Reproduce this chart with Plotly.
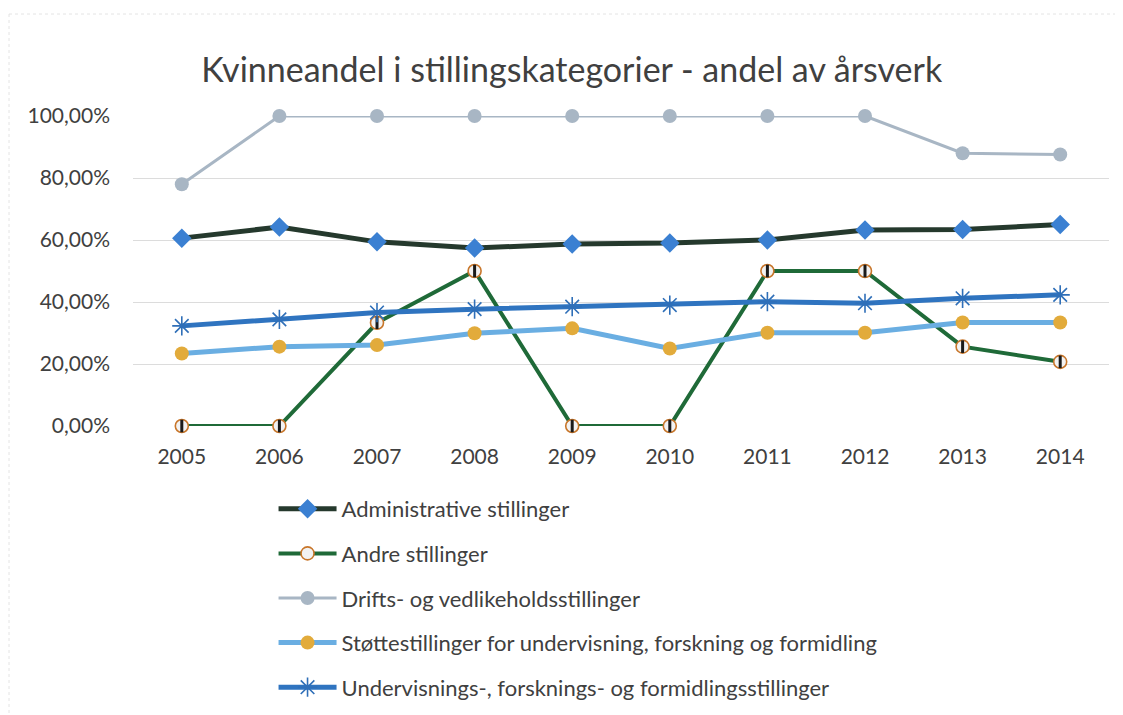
import plotly.graph_objects as go

years = ["2005", "2006", "2007", "2008", "2009", "2010", "2011", "2012", "2013", "2014"]
administrative = [60.6, 64.2, 59.4, 57.4, 58.7, 59.0, 60.0, 63.2, 63.4, 65.0]
andre = [0.0, 0.0, 33.3, 50.0, 0.0, 0.0, 50.0, 50.0, 25.6, 20.7]
drifts = [78.0, 100.0, 100.0, 100.0, 100.0, 100.0, 100.0, 100.0, 88.0, 87.6]
stotte = [23.4, 25.6, 26.1, 29.9, 31.5, 25.0, 30.1, 30.1, 33.4, 33.4]
undervisning = [32.3, 34.4, 36.6, 37.7, 38.5, 39.0, 40.1, 39.6, 41.2, 42.3]

names = [
    "Administrative stillinger",
    "Andre stillinger",
    "Drifts- og vedlikeholdsstillinger",
    "Støttestillinger for undervisning, forskning og formidling",
    "Undervisnings-, forsknings- og formidlingsstillinger",
]
tick_vals = [0, 20, 40, 60, 80, 100]
tick_text = ["0,00%", "20,00%", "40,00%", "60,00%", "80,00%", "100,00%"]

FONT = "Lato"
fig = go.Figure()

styles = [
    dict(line=dict(color="#25392d", width=5),
         marker=dict(symbol="diamond", size=15, color="#3b80d2", line=dict(width=0))),
    dict(line=dict(color="#1f6a38", width=4),
         marker=dict(symbol="circle", size=13, color="#f2f2f2", line=dict(color="#c8762a", width=1.6))),
    dict(line=dict(color="#a8b6c4", width=3),
         marker=dict(symbol="circle", size=14, color="#a8b6c4", line=dict(width=0))),
    dict(line=dict(color="#6aaee2", width=5),
         marker=dict(symbol="circle", size=14, color="#e2ab3b", line=dict(width=0))),
    dict(line=dict(color="#2f74c0", width=5),
         marker=dict(symbol="asterisk-open", size=16, color="#2f6fb8", line=dict(color="#2f6fb8", width=1.6))),
]
series = [administrative, andre, drifts, stotte, undervisning]

for i, (nm, vals, st) in enumerate(zip(names, series, styles)):
    fig.add_trace(go.Scatter(
        x=years, y=vals, name=nm, mode="lines+markers",
        line=st["line"], marker=st["marker"], legendgroup=f"g{i}",
        cliponaxis=False,
    ))
    if i == 1:
        # striped look of the "Andre" markers
        fig.add_trace(go.Scatter(
            x=years, y=vals, mode="markers", showlegend=False, hoverinfo="skip",
            legendgroup=f"g{i}", cliponaxis=False,
            marker=dict(symbol="line-ns", size=9, color="#1a1a1a",
                        line=dict(color="#1a1a1a", width=3)),
        ))

# faint chart-area border (top and left), as in the scanned original
shapes = [
    dict(type="line", xref="paper", yref="paper",
         x0=(1 - 125) / 976, x1=1.03, y0=1 + (108 - 6) / 310, y1=1 + (108 - 6) / 310,
         line=dict(color="#e4e4e4", width=1, dash="dot")),
    dict(type="line", xref="paper", yref="paper",
         x0=(1 - 125) / 976, x1=(1 - 125) / 976, y0=1 + (108 - 6) / 310, y1=-(297 - 2) / 310,
         line=dict(color="#e4e4e4", width=1, dash="dot")),
]

fig.update_layout(
    width=1123, height=715,
    paper_bgcolor="white", plot_bgcolor="white",
    margin=dict(l=125, r=22, t=108, b=297, autoexpand=False),
    title=dict(text="Kvinneandel i stillingskategorier - andel av årsverk",
               x=0.502, xanchor="center", y=0.913, yanchor="middle",
               font=dict(family=FONT, size=34, color="#404040")),
    font=dict(family=FONT, color="#404040"),
    xaxis=dict(type="category", range=[-0.5, 9.5], showgrid=False, showline=False,
               ticks="", tickfont=dict(size=21, color="#404040"), ticklabelstandoff=16),
    yaxis=dict(range=[0, 100], tickvals=tick_vals, ticktext=tick_text,
               showgrid=True, gridcolor="#dcdcdc", gridwidth=1, zeroline=False,
               showline=False, ticks="", tickfont=dict(size=21, color="#404040"),
               ticklabelstandoff=22),
    shapes=shapes,
    showlegend=True,
    legend=dict(orientation="v", x=0.144, xanchor="left", y=-0.2, yanchor="top",
                traceorder="grouped", tracegroupgap=13,
                font=dict(family=FONT, size=22, color="#404040"),
                itemwidth=58, bgcolor="rgba(0,0,0,0)"),
)

fig.write_html("out.html")
